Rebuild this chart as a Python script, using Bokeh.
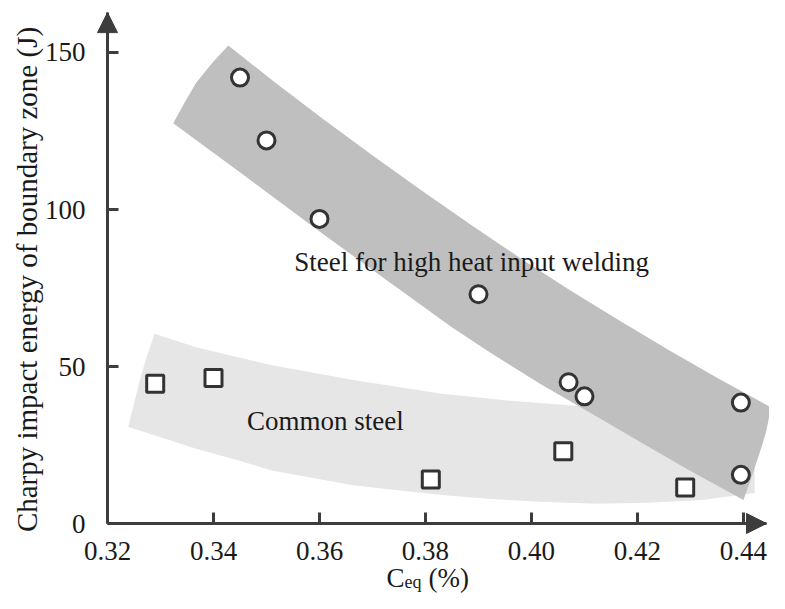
from bokeh.plotting import figure
from bokeh.models import Range1d, FixedTicker, Label, Arrow, NormalHead, NumeralTickFormatter
from bokeh.embed import file_html
from bokeh.resources import INLINE

# ---------------- data ----------------
high_heat_x = [0.345, 0.350, 0.360, 0.390, 0.407, 0.410, 0.4395, 0.4395]
high_heat_y = [142, 122, 97, 73, 45, 40.5, 38.5, 15.5]

common_x = [0.329, 0.340, 0.381, 0.406, 0.429]
common_y = [44.5, 46.3, 14, 23, 11.5]

# scatter bands (outline points, data units)
dark_band_x = [0.3428, 0.3515, 0.3608, 0.3701, 0.3794, 0.3887, 0.3979, 0.4072, 0.4165, 0.4258, 0.4350, 0.4452,
               0.4443, 0.4430, 0.4415, 0.4400,
               0.4295, 0.4202, 0.4109, 0.4016, 0.3924, 0.3849, 0.3738, 0.3595, 0.3460, 0.3324,
               0.3345, 0.3367, 0.3397]
dark_band_y = [152.2, 140.6, 128.7, 117.1, 105.9, 95.0, 84.5, 74.4, 64.7, 55.3, 46.4, 37.0,
               29.4, 22.2, 14.7, 7.5,
               17.2, 26.3, 35.4, 44.5, 54.2, 62.6, 76.1, 93.6, 110.6, 127.5,
               133.9, 140.3, 146.6]

light_band_x = [0.3289, 0.3367, 0.3510, 0.3664, 0.3831, 0.3961, 0.4078, 0.4258, 0.4421,
                0.4421, 0.4322, 0.4220, 0.4122, 0.4016, 0.3924, 0.3831, 0.3747, 0.3664,
                0.3590, 0.3510, 0.3441, 0.3367, 0.3293, 0.3239,
                0.3250, 0.3261, 0.3274]
light_band_y = [60.4, 56.1, 50.4, 45.7, 41.3, 39.1, 37.6, 35.7, 33.5,
                9.7, 7.5, 6.6, 6.3, 6.9, 7.8, 9.1, 10.6, 12.2,
                14.4, 16.9, 20.4, 23.8, 27.9, 30.7,
                38.2, 45.7, 53.2]

x_ticks = [0.32, 0.34, 0.36, 0.38, 0.40, 0.42, 0.44]
y_ticks = [0, 50, 100, 150]

y_title = "Charpy impact energy of boundary zone (J)"
band_labels = ["Steel for high heat input welding", "Common steel"]

# ---------------- style ----------------
FONT = "Liberation Serif"
AX = "#3d3d3d"
TXT = "#1a1a1a"
X0 = 0.32
X_END = 0.44434
Y_END = 162.7

# the frame covers the whole canvas; axes sit at fixed data locations
p = figure(width=769, height=593,
           x_range=Range1d(0.299811, 0.444906), y_range=Range1d(-22.29, 166.56),
           output_backend="svg", toolbar_location=None,
           min_border_left=0, min_border_right=0,
           min_border_top=0, min_border_bottom=0)
p.outline_line_color = None
p.grid.visible = False
p.background_fill_color = "white"
p.border_fill_color = "white"

for ax in (p.xaxis[0], p.yaxis[0]):
    ax.axis_line_width = 3
    ax.axis_line_color = AX
    ax.major_tick_line_width = 3
    ax.major_tick_line_color = AX
    ax.major_tick_in = 11
    ax.major_tick_out = 0
    ax.minor_tick_line_color = None
    ax.major_label_text_font = FONT
    ax.major_label_text_font_size = "27px"
    ax.major_label_text_color = TXT

p.xaxis[0].fixed_location = 0
p.xaxis[0].bounds = (X0, X_END)
p.xaxis[0].ticker = FixedTicker(ticks=x_ticks)
p.xaxis[0].formatter = NumeralTickFormatter(format="0.00")
p.xaxis[0].major_label_standoff = 18

p.yaxis[0].fixed_location = X0
p.yaxis[0].bounds = (0, Y_END)
p.yaxis[0].ticker = FixedTicker(ticks=y_ticks)
p.yaxis[0].major_label_standoff = 22

# bands
p.patch(light_band_x, light_band_y, fill_color="#e6e6e6", line_color=None)
p.patch(dark_band_x, dark_band_y, fill_color="#bfbfbf", line_color=None)

# band labels
p.add_layout(Label(x=0.35525, y=83.4, text=band_labels[0], text_font=FONT,
                   text_font_size="27px", text_color=TXT,
                   text_align="left", text_baseline="alphabetic"))
p.add_layout(Label(x=0.34634, y=32.5, text=band_labels[1], text_font=FONT,
                   text_font_size="27px", text_color=TXT,
                   text_align="left", text_baseline="alphabetic"))

# points
p.scatter(high_heat_x, high_heat_y, marker="circle", size=17,
          fill_color="white", line_color="#333333", line_width=3)
p.scatter(common_x, common_y, marker="square", size=17,
          fill_color="white", line_color="#333333", line_width=3)

# axis arrows
p.add_layout(Arrow(end=NormalHead(size=20, fill_color=AX, line_color=AX),
                   x_start=X0, y_start=140, x_end=X0, y_end=Y_END,
                   line_color=AX, line_width=3))
p.add_layout(Arrow(end=NormalHead(size=20, fill_color=AX, line_color=AX),
                   x_start=0.43, y_start=0, x_end=X_END, y_end=0,
                   line_color=AX, line_width=3))

# y title
p.add_layout(Label(x=0.304905, y=77.7, text=y_title, angle=90, angle_units="deg",
                   text_font=FONT, text_font_size="29px", text_color=TXT,
                   text_align="center", text_baseline="middle"))

# x title: C_eq (%)
p.add_layout(Label(x=0.372642, y=-17.2, text="C", text_font=FONT, text_font_size="27px",
                   text_color=TXT, text_align="left", text_baseline="alphabetic"))
p.add_layout(Label(x=0.376037, y=-18.47, text="eq", text_font=FONT, text_font_size="18px",
                   text_color=TXT, text_align="left", text_baseline="alphabetic"))
p.add_layout(Label(x=0.380566, y=-17.2, text="(%)", text_font=FONT, text_font_size="27px",
                   text_color=TXT, text_align="left", text_baseline="alphabetic"))

open("out.html", "w").write(file_html(p, INLINE))
